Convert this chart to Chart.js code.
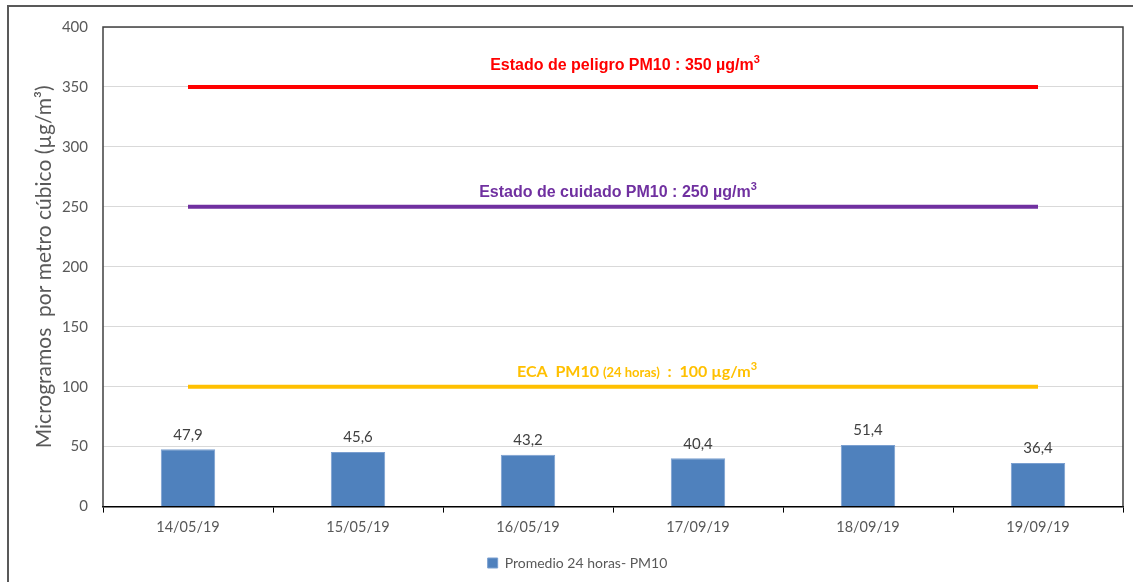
<!DOCTYPE html>
<html>
<head>
<meta charset="utf-8">
<script src="https://cdn.jsdelivr.net/npm/chart.js@4.4.0/dist/chart.umd.min.js"></script>
<style>
  html, body { margin: 0; padding: 0; background: #fff; }
  #wrap { width: 1133px; height: 582px; position: relative; }
</style>
</head>
<body>
<div id="wrap"><canvas id="pmChart" width="1133" height="582"></canvas></div>
<script>
"use strict";

var fechas    = ["14/05/19", "15/05/19", "16/05/19", "17/09/19", "18/09/19", "19/09/19"];
var promedio  = [47.9, 45.6, 43.2, 40.4, 51.4, 36.4];
var peligro   = [350, 350, 350, 350, 350, 350];
var cuidado   = [250, 250, 250, 250, 250, 250];
var eca       = [100, 100, 100, 100, 100, 100];
var yTicks    = [0, 50, 100, 150, 200, 250, 300, 350, 400];

var grayText = "#595959";
var tickFont = "Lato, 'Open Sans', sans-serif";

// Titles above the reference lines, as pieces of rich text
var lineTitles = [
    {
        dataset: 0, color: "#FF0000", offset: 17, shift: 12, parts: [
            {t: "Estado de peligro PM10 : 350 µg/m", f: "bold 16px 'Liberation Sans', Arial, sans-serif"},
            {t: "3", f: "bold 11px 'Liberation Sans', Arial, sans-serif", sup: true}
        ]
    },
    {
        dataset: 1, color: "#7030A0", offset: 10, shift: 5, parts: [
            {t: "Estado de cuidado PM10 : 250 µg/m", f: "bold 16px 'Liberation Sans', Arial, sans-serif"},
            {t: "3", f: "bold 11px 'Liberation Sans', Arial, sans-serif", sup: true}
        ]
    },
    {
        dataset: 2, color: "#FFC000", offset: 10, shift: 24, parts: [
            {t: "ECA  PM10 ", f: "bold 16px Lato, sans-serif"},
            {t: "(24 horas)", f: "bold 13px Lato, sans-serif"},
            {t: "  :  100 µg/m", f: "bold 16px Lato, sans-serif"},
            {t: "3", f: "bold 11px Lato, sans-serif", sup: true}
        ]
    }
];

var extrasPlugin = {
    id: "extras",
    beforeDraw: function (chart)
    {
        var ctx = chart.ctx;
        ctx.save();
        ctx.strokeStyle = "#595959";
        ctx.lineWidth = 2;
        ctx.beginPath();
        ctx.moveTo(8, 600);
        ctx.lineTo(8, 6);
        ctx.lineTo(1140, 6);
        ctx.stroke();
        ctx.restore();
    },
    afterDatasetsDraw: function (chart)
    {
        var ctx = chart.ctx;
        var a = chart.chartArea;
        ctx.save();
        // plot box
        ctx.strokeStyle = "#404040";
        ctx.lineWidth = 1.5;
        ctx.beginPath();
        ctx.moveTo(a.left, a.bottom);
        ctx.lineTo(a.left, a.top);
        ctx.lineTo(a.right, a.top);
        ctx.lineTo(a.right, a.bottom);
        ctx.stroke();

        // value labels above bars
        var barMeta = chart.getDatasetMeta(3);
        ctx.fillStyle = "#404040";
        ctx.font = "15px " + tickFont;
        ctx.textAlign = "center";
        ctx.textBaseline = "bottom";
        barMeta.data.forEach(function (bar, i)
        {
            ctx.fillText(String(promedio[i]).replace(".", ","), bar.x, bar.y - 7);
        });

        // titles of reference lines
        ctx.textAlign = "left";
        ctx.textBaseline = "alphabetic";
        lineTitles.forEach(function (lt)
        {
            var y = chart.scales.y.getPixelForValue(chart.data.datasets[lt.dataset].data[0]) - lt.offset;
            var total = 0;
            lt.parts.forEach(function (p)
            {
                ctx.font = p.f;
                total += ctx.measureText(p.t).width;
            });
            var x = (a.left + a.right) / 2 + lt.shift - total / 2;
            ctx.fillStyle = lt.color;
            lt.parts.forEach(function (p)
            {
                ctx.font = p.f;
                ctx.fillText(p.t, x, p.sup ? y - 7 : y);
                x += ctx.measureText(p.t).width;
            });
        });
        ctx.restore();
    }
};

function refLine(label, values, color)
{
    return {
        type:        "line",
        label:       label,
        data:        values,
        borderColor: color,
        borderWidth: 4,
        pointRadius: 0,
        fill:        false
    };
}

new Chart(document.getElementById("pmChart"), {
    type:    "bar",
    data:    {
        labels:   fechas,
        datasets: [
            refLine("Estado de peligro", peligro, "#FF0000"),
            refLine("Estado de cuidado", cuidado, "#7030A0"),
            refLine("ECA", eca, "#FFC000"),
            {
                type:               "bar",
                label:              "Promedio 24 horas- PM10",
                data:               promedio,
                backgroundColor:    "#4F81BD",
                borderColor:        "#7A9FD0",
                borderWidth:        1,
                barPercentage:      0.64,
                categoryPercentage: 0.5,
                order:              10
            }
        ]
    },
    options: {
        responsive:          false,
        animation:           false,
        devicePixelRatio:    1,
        layout:              {padding: {left: 32, top: 27, right: 10, bottom: 2}},
        plugins:             {
            tooltip: {enabled: false},
            legend:  {
                position: "bottom",
                labels:   {
                    color:    grayText,
                    boxWidth: 10,
                    boxHeight: 10,
                    padding:  14,
                    font:     {family: tickFont, size: 14},
                    filter:   function (item) { return item.datasetIndex === 3; }
                }
            }
        },
        scales:              {
            x: {
                grid:   {display: true, drawOnChartArea: false, drawTicks: true, tickLength: 6, color: "#000", offset: true},
                border: {color: "#000", width: 1.5},
                ticks:  {color: grayText, font: {family: tickFont, size: 14.5}, padding: 6}
            },
            y: {
                min:    0,
                max:    400,
                afterBuildTicks: function (axis) { axis.ticks = yTicks.map(function (v) { return {value: v}; }); },
                afterFit: function (axis) { axis.width = 71; },
                grid:   {color: "#D9D9D9", lineWidth: 1, drawTicks: false},
                border: {display: false},
                ticks:  {color: grayText, font: {family: tickFont, size: 15}, padding: 15},
                title:  {
                    display: true,
                    text:    "Microgramos  por metro cúbico (µg/m³)",
                    color:   grayText,
                    font:    {family: tickFont, size: 21},
                    padding: {top: 0, bottom: 0}
                }
            }
        }
    },
    plugins: [extrasPlugin]
});
</script>
</body>
</html>
